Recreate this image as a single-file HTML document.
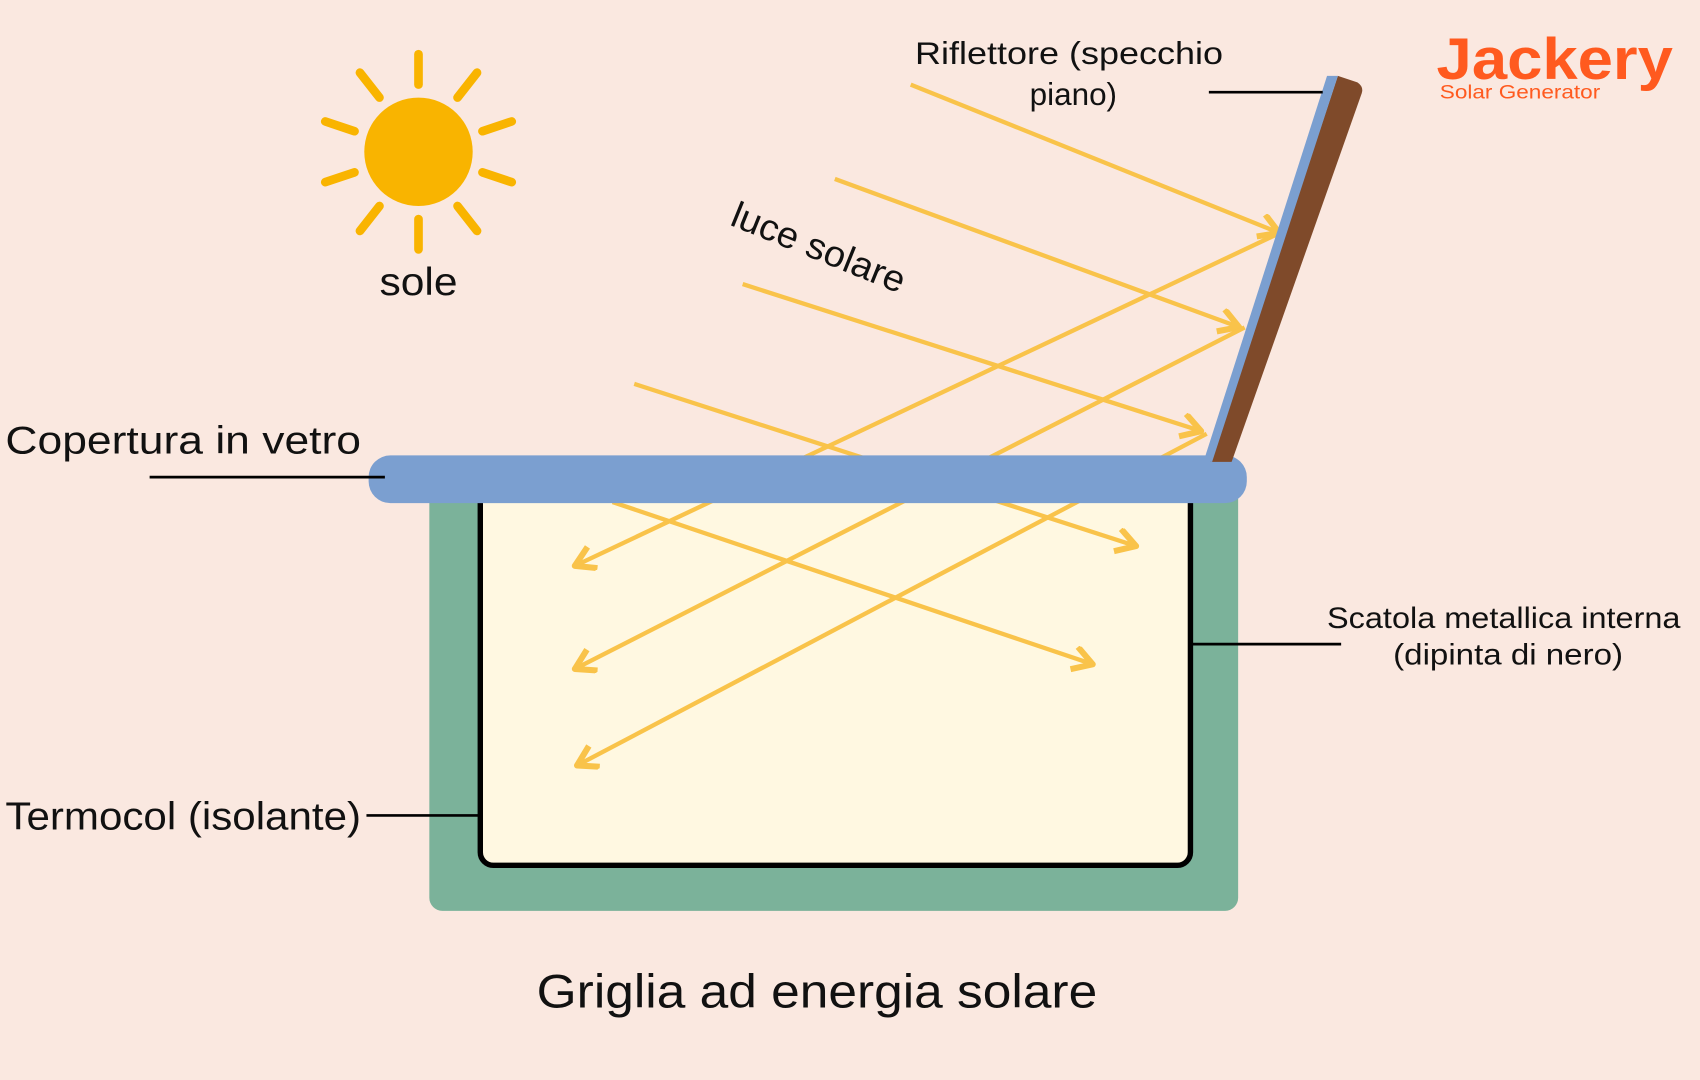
<!DOCTYPE html>
<html><head><meta charset="utf-8"><style>
html,body{margin:0;padding:0;background:#FAE8E0;width:1700px;height:1080px;overflow:hidden}
svg{display:block}
text{font-family:"Liberation Sans",sans-serif;fill:#111}
</style></head><body>
<svg width="1700" height="1080" viewBox="0 0 1568 996" preserveAspectRatio="none">
<rect width="1568" height="996" fill="#FAE8E0"/>
<g stroke="#F9B400" stroke-width="8" stroke-linecap="round">
<line x1="386" y1="78" x2="386" y2="50"/>
<line x1="386" y1="202" x2="386" y2="230"/>
<line x1="422" y1="90" x2="440" y2="67"/>
<line x1="350" y1="90" x2="332" y2="67"/>
<line x1="422" y1="190" x2="440" y2="213"/>
<line x1="350" y1="190" x2="332" y2="213"/>
<line x1="445" y1="121" x2="472" y2="112"/>
<line x1="327" y1="121" x2="300" y2="112"/>
<line x1="445" y1="159" x2="472" y2="168"/>
<line x1="327" y1="159" x2="300" y2="168"/>
</g>
<circle cx="386" cy="140" r="50" fill="#F9B400"/>
<text x="386" y="272" font-size="36" text-anchor="middle" textLength="72" lengthAdjust="spacingAndGlyphs">sole</text>
<rect x="396" y="440" width="746" height="400" rx="12" fill="#7BB29A"/>
<rect x="443" y="450" width="655" height="348" rx="12" fill="#FFF8E1" stroke="#000" stroke-width="5"/>
<defs><marker id="a" markerWidth="7" markerHeight="7" refX="4.5" refY="3" orient="auto" markerUnits="strokeWidth"><path d="M0.5,0.3 L5,3 L0.5,5.7" fill="none" stroke="#F9C34A" stroke-width="1.4" stroke-linejoin="round"/></marker></defs>
<g stroke="#F9C34A" stroke-width="4" fill="none" marker-end="url(#a)">
<line x1="840" y1="78" x2="1178" y2="214"/>
<line x1="770" y1="165" x2="1141" y2="301"/>
<line x1="685" y1="262" x2="1106" y2="397"/>
<line x1="585" y1="354" x2="1046" y2="503"/>
<line x1="565" y1="463" x2="1006" y2="612"/>
<line x1="1180" y1="215" x2="532" y2="521"/>
<line x1="1148" y1="302" x2="532" y2="616"/>
<line x1="1113" y1="400" x2="534" y2="705"/>
</g>
<rect x="340" y="420" width="810" height="44" rx="20" fill="#7B9FD0"/>
<path d="M1234,70 L1252,76 Q1258,80 1256,86 L1136,426 L1116,426 Z" fill="#7F4A2A"/>
<polygon points="1224,70 1234,70 1118,426 1110,426" fill="#7B9FD0"/>
<g stroke="#000" stroke-width="2.5">
<line x1="1115" y1="85" x2="1220" y2="85"/>
<line x1="138" y1="440" x2="355" y2="440"/>
<line x1="338" y1="752" x2="442" y2="752"/>
<line x1="1100" y1="594" x2="1237" y2="594"/>
</g>
<text x="844" y="59" font-size="29" textLength="284" lengthAdjust="spacingAndGlyphs">Riflettore (specchio</text>
<text x="990" y="97" font-size="29" text-anchor="middle">piano)</text>
<text x="0" y="0" font-size="34" transform="translate(672,207) rotate(22)" textLength="170" lengthAdjust="spacingAndGlyphs">luce solare</text>
<text x="5" y="418" font-size="36" textLength="328" lengthAdjust="spacingAndGlyphs">Copertura in vetro</text>
<text x="5" y="765" font-size="36" textLength="328" lengthAdjust="spacingAndGlyphs">Termocol (isolante)</text>
<text x="1224" y="579" font-size="27" textLength="326" lengthAdjust="spacingAndGlyphs">Scatola metallica interna</text>
<text x="1285" y="613" font-size="27" textLength="212" lengthAdjust="spacingAndGlyphs">(dipinta di nero)</text>
<text x="495" y="929" font-size="44" textLength="517" lengthAdjust="spacingAndGlyphs">Griglia ad energia solare</text>
<text x="1325" y="73" font-size="54" font-weight="bold" style="fill:#FF5A1F" textLength="218" lengthAdjust="spacingAndGlyphs">Jackery</text>
<text x="1328" y="91" font-size="18" style="fill:#FF5A1F" textLength="148" lengthAdjust="spacingAndGlyphs">Solar Generator</text>
</svg>
</body></html>
